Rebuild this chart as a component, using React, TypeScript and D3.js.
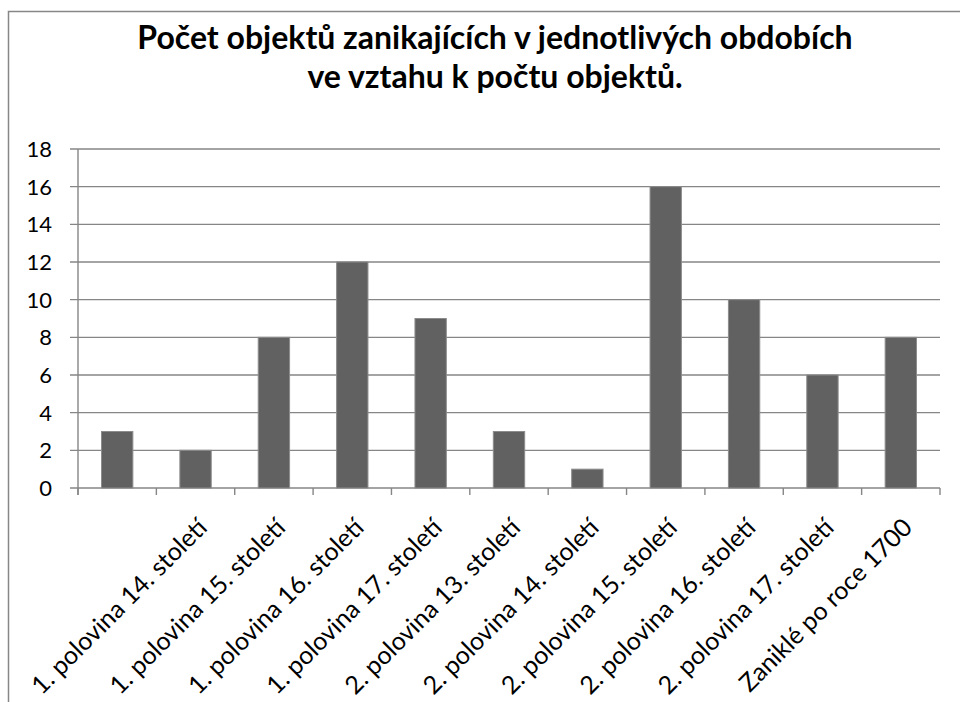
import * as d3 from "d3";

const categories = [
  "",
  "1. polovina 14. století",
  "1. polovina 15. století",
  "1. polovina 16. století",
  "1. polovina 17. století",
  "2. polovina 13. století",
  "2. polovina 14. století",
  "2. polovina 15. století",
  "2. polovina 16. století",
  "2. polovina 17. století",
  "Zaniklé po roce 1700",
];
const counts = [3, 2, 8, 12, 9, 3, 1, 16, 10, 6, 8];
const yTicks = [0, 2, 4, 6, 8, 10, 12, 14, 16, 18];
const titleLines = [
  "Počet objektů zanikajících v jednotlivých obdobích",
  "ve vztahu k počtu objektů.",
];

const W = 960;
const H = 702;
const left = 78;
const right = 940;
const top = 149;
const bottom = 488;
const font = "Lato, 'Open Sans', sans-serif";
const gridColor = "#868686";

export default function App() {
  const x = d3
    .scaleBand<number>()
    .domain(d3.range(categories.length))
    .range([left, right])
    .paddingInner(0.6)
    .paddingOuter(0.3);
  const step = x.step();
  const y = d3.scaleLinear().domain([0, 18]).range([bottom, top]);

  return (
    <svg
      width={W}
      height={H}
      style={{ position: "absolute", left: 0, top: 0, background: "#fff" }}
    >
      <rect x={8.5} y={11.5} width={1100} height={900} fill="#fff" stroke="#878787" strokeWidth={1.5} />

      {titleLines.map((t, i) => (
        <text
          key={i}
          x={495}
          y={49 + i * 39}
          textAnchor="middle"
          fontFamily={font}
          fontWeight="bold"
          fontSize={32}
          fill="#000"
        >
          {t}
        </text>
      ))}

      {yTicks.map((t) => (
        <g key={t}>
          <line x1={left - 8} x2={right} y1={y(t)} y2={y(t)} stroke={gridColor} strokeWidth={1.4} />
          <text
            x={52}
            y={y(t)}
            dy="0.36em"
            textAnchor="end"
            fontFamily={font}
            fontSize={22}
            fill="#000"
          >
            {t}
          </text>
        </g>
      ))}

      <line x1={left} x2={left} y1={top} y2={bottom + 7} stroke={gridColor} strokeWidth={1.4} />
      {d3.range(categories.length + 1).map((i) => (
        <line
          key={i}
          x1={left + i * step}
          x2={left + i * step}
          y1={bottom}
          y2={bottom + 7}
          stroke={gridColor}
          strokeWidth={1.4}
        />
      ))}

      {counts.map((v, i) => (
        <rect
          key={i}
          x={x(i)}
          y={y(v)}
          width={x.bandwidth()}
          height={bottom - y(v)}
          fill="#616161"
          stroke="#8c8c8c"
          strokeWidth={1}
        />
      ))}

      {categories.map((c, i) => {
        const cx = (x(i) ?? 0) + x.bandwidth() / 2;
        return (
          <text
            key={i}
            transform={`translate(${cx + 13},${529}) rotate(-45)`}
            textAnchor="end"
            fontFamily={font}
            fontSize={25}
            fill="#000"
          >
            {c}
          </text>
        );
      })}
    </svg>
  );
}
